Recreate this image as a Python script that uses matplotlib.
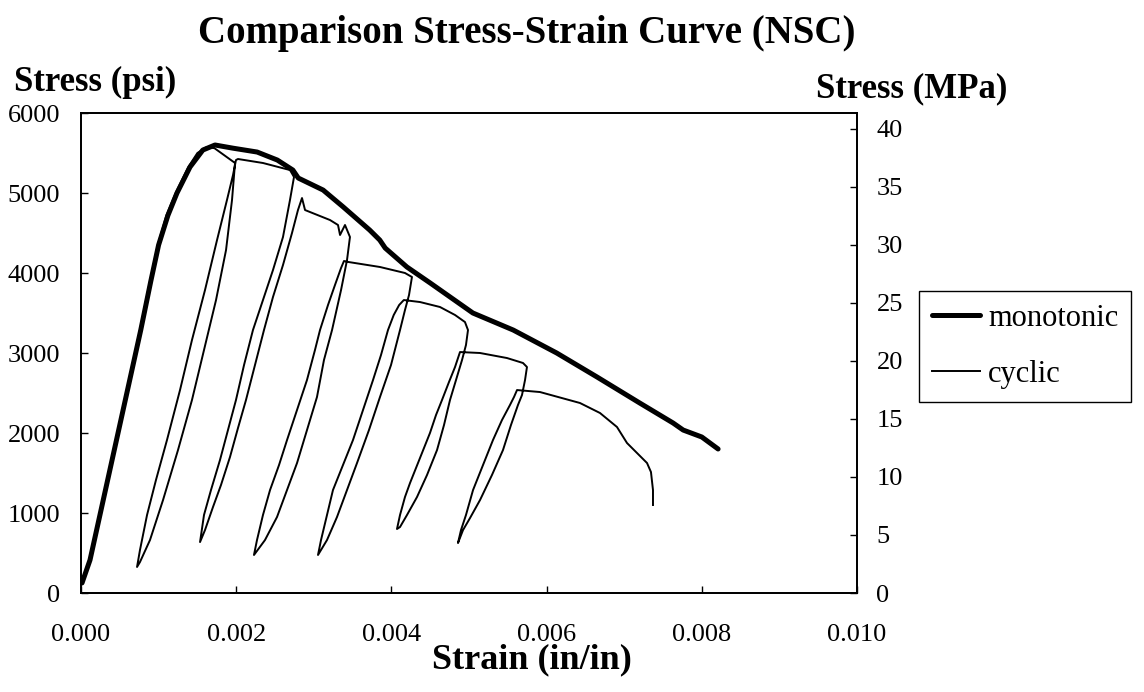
import numpy as np
import matplotlib
matplotlib.use('Agg')
import matplotlib.pyplot as plt
from matplotlib.ticker import FormatStrFormatter

# Stress-strain, NSC: monotonic vs cyclic (strain in 1e-3 in/in, stress in psi)
mono_strain = [0.013, 0.116, 0.45, 0.77, 0.90, 1.00, 1.12, 1.237, 1.405, 1.57, 1.727, 1.96, 2.27, 2.53,
               2.73, 2.80, 3.12, 3.38, 3.72, 3.85, 3.92, 4.20, 4.50, 5.05, 5.57, 6.13, 6.65, 7.20, 7.63,
               7.76, 8.00, 8.21]
mono_stress = [125, 412, 1880, 3287, 3900, 4350, 4720, 5000, 5325, 5537, 5600, 5560, 5512, 5412,
               5287, 5187, 5037, 4825, 4537, 4412, 4312, 4075, 3875, 3500, 3287, 3000, 2700, 2375, 2125,
               2037, 1950, 1800]

# cyclic curve, branch by branch
rise_e = [0.013, 0.12, 0.45, 0.76, 0.89, 0.99, 1.10, 1.22, 1.38, 1.50, 1.62, 1.72, 1.85, 1.985]
rise_s = [125, 420, 1880, 3287, 3900, 4350, 4720, 5000, 5320, 5500, 5575, 5560, 5470, 5375]
unload1_e = [1.985, 1.946, 1.869, 1.740, 1.585, 1.430, 1.250, 1.057, 0.889, 0.760, 0.722]
unload1_s = [5375, 4912, 4287, 3662, 3037, 2412, 1787, 1162, 662, 387, 325]
reload1_e = [0.722, 0.760, 0.851, 0.966, 1.108, 1.276, 1.430, 1.598, 1.753, 1.881, 1.959, 1.997]
reload1_s = [325, 537, 975, 1412, 1912, 2537, 3162, 3787, 4412, 4912, 5225, 5412]
top2_e = [1.997, 2.023, 2.345, 2.693, 2.745]
top2_s = [5412, 5425, 5375, 5287, 5200]
unload2_e = [2.745, 2.693, 2.603, 2.474, 2.345, 2.216, 2.101, 1.997, 1.894, 1.791, 1.675, 1.585, 1.534]
unload2_s = [5200, 4912, 4450, 4037, 3662, 3287, 2850, 2412, 2037, 1662, 1287, 975, 637]
reload2_e = [1.534, 1.598, 1.701, 1.804, 1.920, 2.023, 2.126, 2.242, 2.358, 2.474, 2.603, 2.719, 2.796, 2.848]
reload2_s = [637, 787, 1075, 1350, 1700, 2062, 2412, 2850, 3287, 3700, 4100, 4500, 4787, 4937]
top3_e = [2.848, 2.887, 3.209, 3.312, 3.338, 3.402, 3.466]
top3_s = [4937, 4787, 4662, 4600, 4475, 4600, 4450]
unload3_e = [3.466, 3.428, 3.351, 3.235, 3.131, 3.041, 2.912, 2.784, 2.655, 2.526, 2.371, 2.229]
unload3_s = [4450, 4162, 3787, 3287, 2912, 2450, 2037, 1625, 1287, 950, 662, 475]
reload3_e = [2.229, 2.268, 2.345, 2.436, 2.552, 2.655, 2.784, 2.912, 3.015, 3.080, 3.183, 3.273, 3.351, 3.389]
reload3_s = [475, 662, 975, 1287, 1600, 1912, 2287, 2662, 3037, 3287, 3600, 3850, 4062, 4150]
top4_e = [3.389, 3.45, 3.853, 4.175, 4.265]
top4_s = [4150, 4137, 4075, 4000, 3950]
unload4_e = [4.265, 4.227, 4.175, 4.111, 3.995, 3.853, 3.711, 3.557, 3.428, 3.299, 3.170, 3.054]
unload4_s = [3950, 3725, 3537, 3287, 2850, 2450, 2037, 1625, 1287, 950, 662, 475]
reload4_e = [3.054, 3.093, 3.170, 3.247, 3.376, 3.505, 3.634, 3.763, 3.866, 3.956, 4.03, 4.10, 4.16]
reload4_s = [475, 662, 975, 1287, 1600, 1912, 2287, 2662, 2975, 3287, 3475, 3600, 3662]
top5_e = [4.16, 4.369, 4.626, 4.820, 4.948, 4.987]
top5_s = [3662, 3637, 3575, 3475, 3387, 3287]
unload5_e = [4.987, 4.961, 4.910, 4.832, 4.755, 4.678, 4.588, 4.459, 4.330, 4.201, 4.111, 4.072]
unload5_s = [3287, 3100, 2912, 2662, 2412, 2100, 1787, 1475, 1200, 975, 825, 800]
reload5_e = [4.072, 4.111, 4.175, 4.240, 4.369, 4.497, 4.575, 4.652, 4.742, 4.820, 4.884]
reload5_s = [800, 975, 1200, 1375, 1687, 2000, 2225, 2412, 2637, 2825, 3012]
top6_e = [4.884, 5.142, 5.490, 5.696, 5.747]
top6_s = [3012, 3000, 2937, 2875, 2825]
unload6_e = [5.747, 5.722, 5.683, 5.631, 5.541, 5.438, 5.296, 5.142, 5.013, 4.923, 4.858]
unload6_s = [2825, 2662, 2475, 2350, 2100, 1787, 1475, 1162, 937, 787, 625]
reload6_e = [4.858, 4.897, 4.961, 5.052, 5.180, 5.309, 5.425, 5.528, 5.580, 5.619]
reload6_s = [625, 787, 975, 1287, 1600, 1912, 2162, 2350, 2450, 2537]
tail_e = [5.619, 5.915, 6.430, 6.688, 6.907, 7.036, 7.294, 7.345, 7.371, 7.371]
tail_s = [2537, 2512, 2375, 2250, 2075, 1875, 1625, 1512, 1287, 1100]

cyc_e = np.concatenate([rise_e, unload1_e, reload1_e, top2_e, unload2_e, reload2_e, top3_e,
                        unload3_e, reload3_e, top4_e, unload4_e, reload4_e, top5_e, unload5_e,
                        reload5_e, top6_e, unload6_e, reload6_e, tail_e]) / 1000
cyc_s = np.concatenate([rise_s, unload1_s, reload1_s, top2_s, unload2_s, reload2_s, top3_s,
                        unload3_s, reload3_s, top4_s, unload4_s, reload4_s, top5_s, unload5_s,
                        reload5_s, top6_s, unload6_s, reload6_s, tail_s])

psi_to_mpa = 0.00689476

plt.rcParams['font.family'] = ['Liberation Serif', 'DejaVu Serif']

W, H = 1144, 692
fig = plt.figure(figsize=(W / 100, H / 100), dpi=100)
ax = fig.add_axes([81 / W, 99 / H, 776 / W, 480 / H])

ax.plot(np.array(mono_strain) / 1000, mono_stress, color='black', lw=3.6,
        solid_capstyle='round', solid_joinstyle='round', label='monotonic')
ax.plot(cyc_e, cyc_s, color='black', lw=1.4, solid_joinstyle='round', label='cyclic')

ax.set_xlim(0, 0.010)
ax.set_ylim(0, 6000)
ax.set_xticks(np.arange(0, 0.0101, 0.002))
ax.xaxis.set_major_formatter(FormatStrFormatter('%.3f'))
ax.set_yticks(np.arange(0, 6001, 1000))
ax.tick_params(axis='x', direction='in', length=5, width=1, labelsize=19, pad=22)
ax.tick_params(axis='y', direction='in', length=5, width=1, labelsize=19, pad=15)
for sp in ax.spines.values():
    sp.set_linewidth(1.3)

ax2 = ax.twinx()
ax2.set_ylim(0, 6000 * psi_to_mpa)
ax2.set_yticks(np.arange(0, 41, 5))
ax2.tick_params(axis='y', direction='in', length=5, width=1, labelsize=19, pad=14)
for sp in ax2.spines.values():
    sp.set_linewidth(1.3)

fig.text(527 / W, 1 - 33 / H, 'Comparison Stress-Strain Curve (NSC)', ha='center', va='center',
         fontsize=28, fontweight='bold')
fig.text(14 / W, 1 - 82 / H, 'Stress (psi)', ha='left', va='center', fontsize=25, fontweight='bold')
fig.text(912 / W, 1 - 89 / H, 'Stress (MPa)', ha='center', va='center', fontsize=25, fontweight='bold')
fig.text(532 / W, 1 - 660 / H, 'Strain (in/in)', ha='center', va='center', fontsize=26, fontweight='bold')

leg = ax.legend(loc='upper left', bbox_to_anchor=(919 / W, 1 - 291 / H), bbox_transform=fig.transFigure,
                borderaxespad=0, fontsize=22, frameon=True, fancybox=False, framealpha=1,
                edgecolor='black', handlelength=1.6, handletextpad=0.25, labelspacing=0.9,
                borderpad=0.41)
leg.get_frame().set_linewidth(1.0)

fig.savefig('out.png', dpi=100)
